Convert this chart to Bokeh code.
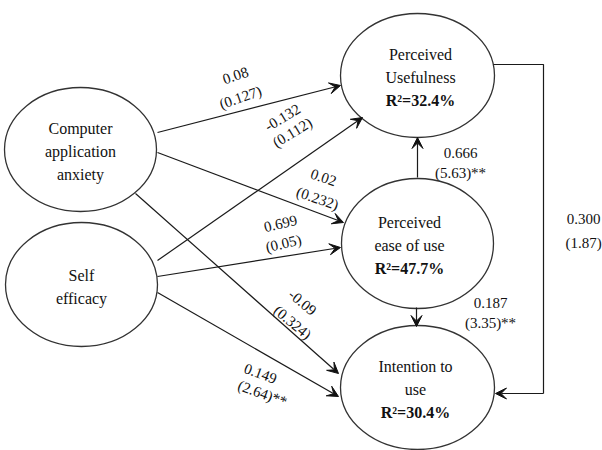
from bokeh.plotting import figure
from bokeh.models import Range1d, Arrow, VeeHead, ColumnDataSource
from bokeh.embed import file_html
from bokeh.resources import INLINE
from bokeh.core.properties import value
import math

# ---------------- data ----------------
node_keys = ["CAA", "SE", "PU", "PEOU", "ITU"]
node_lines = [["Computer", "application", "anxiety"],
              ["Self", "efficacy"],
              ["Perceived", "Usefulness"],
              ["Perceived", "ease of use"],
              ["Intention to", "use"]]
r_squared = [None, None, "32.4%", "47.7%", "30.4%"]

path_from = ["CAA", "SE", "CAA", "SE", "CAA", "SE", "PEOU", "PEOU", "PU"]
path_to = ["PU", "PU", "PEOU", "PEOU", "ITU", "ITU", "PU", "ITU", "ITU"]
path_coef = ["0.08", "-0.132", "0.02", "0.699", "-0.09", "0.149", "0.666", "0.187", "0.300"]
path_stat = ["(0.127)", "(0.112)", "(0.232)", "(0.05)", "(0.324)", "(2.64)**", "(5.63)**", "(3.35)**", "(1.87)"]

# ---------------- layout ----------------
node_cx = [80, 81, 417, 417, 417]
node_cy = [149, 284, 75, 243, 387]
node_w = [152, 152, 154, 152, 154]
node_h = [124, 124, 124, 130, 124]
node_text_dx = [0, 0, 3, -8, -2]
line_gap = 23

start_off = [(77, -17), (76, -24), (77, 3), (76, -8), (55, 44), (76, 8), (0, -66), (-1, 64), (76, -11)]
end_off = [(-77, 10), (-55, 42), (-74, -21), (-77, 4), (-79, -14), (-79, 9), (0, 62), (-1, -61), (78, 6)]
elbow_x = 543

coef_xy = [(235, 75), (282, 117), (323, 177), (280, 223), (302, 302), (260, 373), (460, 152), (490, 302), (583, 218)]
stat_xy = [(240, 97), (292, 132), (317, 198), (283, 243), (292, 322), (262, 393), (460, 172), (490, 322), (583, 242)]
label_angle = [19, 31, -19, 13, -40, -20, 0, 0, 0]

FONT = "Liberation Serif"
TXT = "#111111"

p = figure(width=602, height=450, x_range=Range1d(0, 602), y_range=Range1d(450, 0),
           x_axis_type=None, y_axis_type=None, output_backend="svg", toolbar_location=None,
           min_border=0)
p.grid.visible = False
p.outline_line_color = None
p.background_fill_color = "white"
p.border_fill_color = "white"

# ellipses
p.ellipse(x=node_cx, y=node_cy, width=node_w, height=node_h,
          fill_color="white", line_color="#333333", line_width=1.3)

# node texts
tx, ty, tt = [], [], []
bx, by, bt = [], [], []
for i, lines in enumerate(node_lines):
    n = len(lines) + (1 if r_squared[i] else 0)
    for j in range(n):
        yy = node_cy[i] + 2 + (j - (n - 1) / 2) * line_gap
        xx = node_cx[i] + node_text_dx[i]
        if j < len(lines):
            tx.append(xx); ty.append(yy); tt.append(lines[j])
        else:
            bx.append(xx); by.append(yy); bt.append("R\u00b2=" + r_squared[i])
p.text(x=tx, y=ty, text=tt, text_font=value(FONT), text_font_size="16px",
       text_align="center", text_baseline="middle", text_color=TXT)
p.text(x=bx, y=by, text=bt, text_font=value(FONT), text_font_size="16px", text_font_style="bold",
       text_align="center", text_baseline="middle", text_color=TXT)

# paths
idx = {k: i for i, k in enumerate(node_keys)}
xs0, ys0, xs1, ys1 = [], [], [], []
seg_x, seg_y = [], []
for e in range(len(path_from)):
    s = idx[path_from[e]]; t = idx[path_to[e]]
    sx = node_cx[s] + start_off[e][0]; sy = node_cy[s] + start_off[e][1]
    ex = node_cx[t] + end_off[e][0]; ey = node_cy[t] + end_off[e][1]
    if path_from[e] == "PU" and path_to[e] == "ITU":
        seg_x.append([sx, elbow_x, elbow_x]); seg_y.append([sy, sy, ey])
        sx, sy = elbow_x, ey
    xs0.append(sx); ys0.append(sy); xs1.append(ex); ys1.append(ey)

if seg_x:
    p.multi_line(xs=seg_x, ys=seg_y, line_color="#1a1a1a", line_width=1.2)

src = ColumnDataSource(dict(x0=xs0, y0=ys0, x1=xs1, y1=ys1))
p.add_layout(Arrow(end=VeeHead(size=11, fill_color="#111111", line_color="#111111", line_width=1),
                   x_start="x0", y_start="y0", x_end="x1", y_end="y1", source=src,
                   line_color="#1a1a1a", line_width=1.2))

# path labels
ang = [math.radians(a) for a in label_angle]
p.text(x=[c[0] for c in coef_xy], y=[c[1] for c in coef_xy], text=path_coef, angle=ang,
       text_font=value(FONT), text_font_size="15px", text_align="center",
       text_baseline="middle", text_color=TXT)
p.text(x=[c[0] for c in stat_xy], y=[c[1] for c in stat_xy], text=path_stat, angle=ang,
       text_font=value(FONT), text_font_size="15px", text_align="center",
       text_baseline="middle", text_color=TXT)

open("out.html", "w").write(file_html(p, INLINE))
